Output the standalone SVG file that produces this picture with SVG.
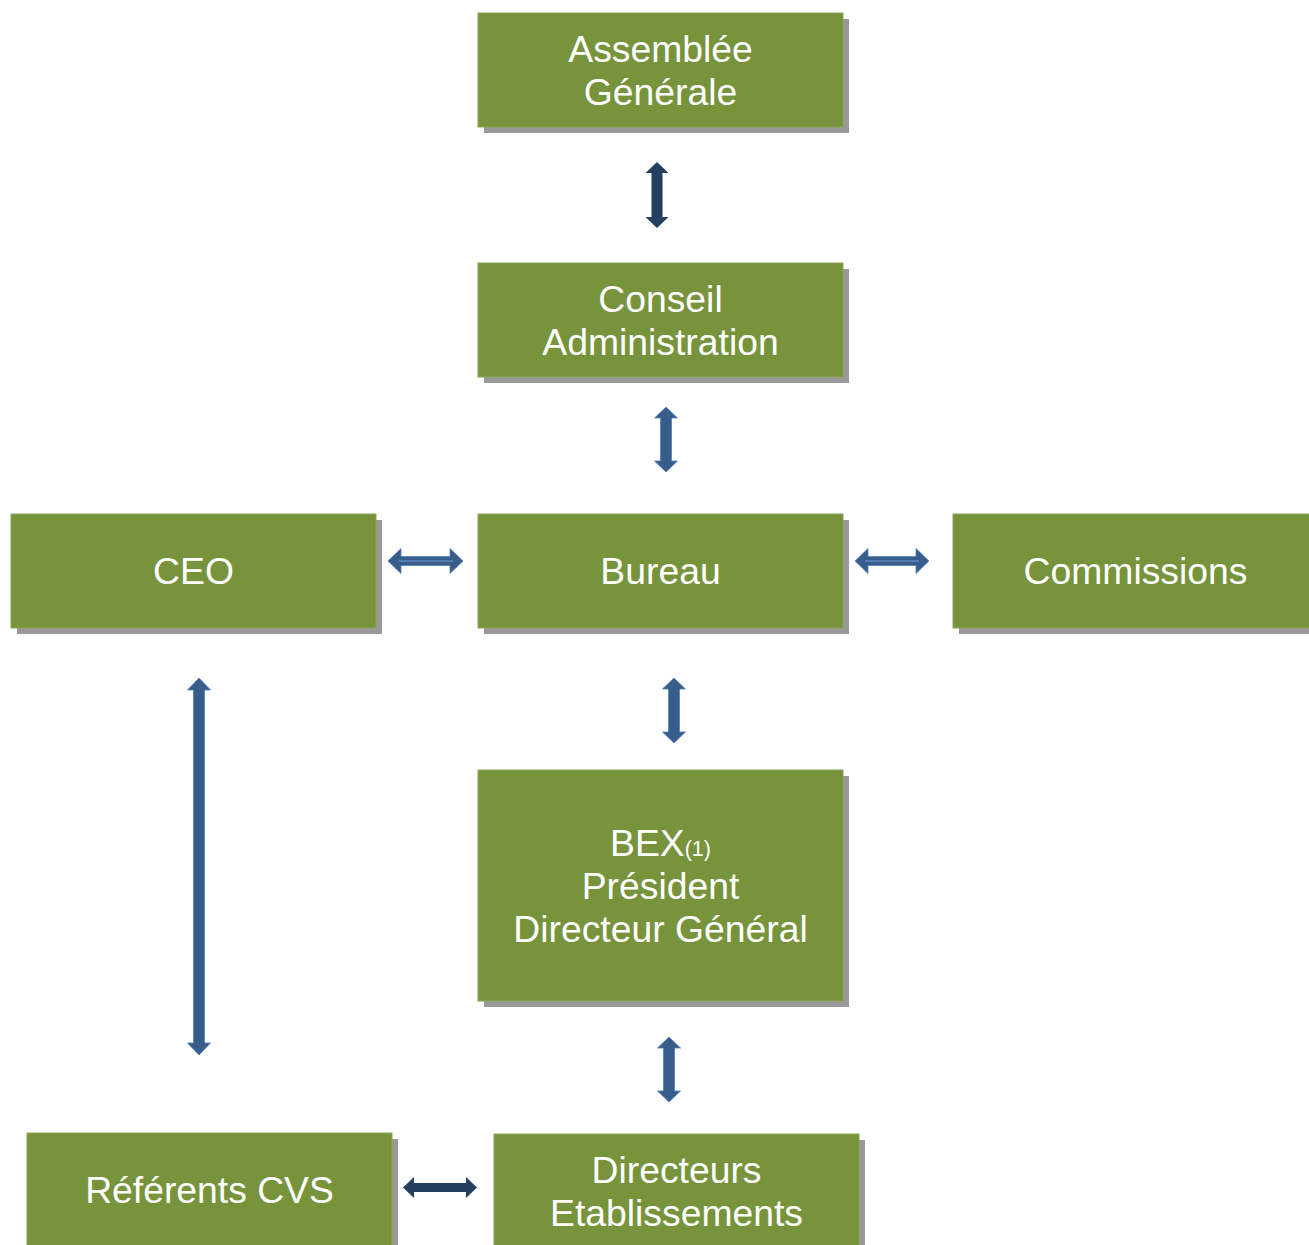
<svg xmlns="http://www.w3.org/2000/svg" width="1309" height="1245" viewBox="0 0 1309 1245">
<style>
.box{fill:#77933c;stroke:#8aa552;stroke-width:1}
.sh{fill:#999999}
.t{fill:#ffffff;font-family:"Liberation Sans",Arial,sans-serif;font-size:37.3px;text-anchor:middle}
.dark{fill:#243f60}
.blue{fill:#385d8a;stroke:#4f81bd;stroke-width:0.8}
.hl{stroke:#5b86bf;stroke-width:1.5}
</style>
<rect width="1309" height="1245" fill="#ffffff"/>
<g id="node-ag">
<rect class="sh" x="484" y="19" width="365" height="114"/>
<rect class="box" x="478" y="13" width="365" height="114"/>
<text class="t" x="660.5" y="62">Assemblée</text>
<text class="t" x="660.5" y="105">Générale</text>
</g>
<g id="node-ca">
<rect class="sh" x="484" y="269" width="365" height="114"/>
<rect class="box" x="478" y="263" width="365" height="114"/>
<text class="t" x="660.5" y="312">Conseil</text>
<text class="t" x="660.5" y="355">Administration</text>
</g>
<g id="node-ceo">
<rect class="sh" x="17" y="520" width="365" height="114"/>
<rect class="box" x="11" y="514" width="365" height="114"/>
<text class="t" x="193.5" y="584">CEO</text>
</g>
<g id="node-bureau">
<rect class="sh" x="484" y="520" width="365" height="114"/>
<rect class="box" x="478" y="514" width="365" height="114"/>
<text class="t" x="660.5" y="584">Bureau</text>
</g>
<g id="node-commissions">
<rect class="sh" x="959" y="520" width="365" height="114"/>
<rect class="box" x="953" y="514" width="365" height="114"/>
<text class="t" x="1135.5" y="584">Commissions</text>
</g>
<g id="node-bex">
<rect class="sh" x="484" y="776" width="365" height="231"/>
<rect class="box" x="478" y="770" width="365" height="231"/>
<text class="t" x="660.5" y="856">BEX<tspan font-size="21.5px">(1)</tspan></text>
<text class="t" x="660.5" y="899">Président</text>
<text class="t" x="660.5" y="942">Directeur Général</text>
</g>
<g id="node-referents">
<rect class="sh" x="33" y="1139" width="365" height="114"/>
<rect class="box" x="27" y="1133" width="365" height="114"/>
<text class="t" x="209.5" y="1203">Référents CVS</text>
</g>
<g id="node-directeurs">
<rect class="sh" x="500" y="1140" width="365" height="114"/>
<rect class="box" x="494" y="1134" width="365" height="114"/>
<text class="t" x="676.5" y="1183">Directeurs</text>
<text class="t" x="676.5" y="1226">Etablissements</text>
</g>
<g id="connectors">
<polygon class="dark" points="657,162 668.5,173 662.5,173 662.5,217 668.5,217 657,228 645.5,217 651.5,217 651.5,173 645.5,173"/>
<polygon class="blue" points="666,407 677.5,418 671.5,418 671.5,461 677.5,461 666,472 654.5,461 660.5,461 660.5,418 654.5,418"/>
<polygon class="blue" points="674,678 685.5,689 679.5,689 679.5,732 685.5,732 674,743 662.5,732 668.5,732 668.5,689 662.5,689"/>
<polygon class="blue" points="199,678 210.5,690 204.5,690 204.5,1043 210.5,1043 199,1055 187.5,1043 193.5,1043 193.5,690 187.5,690"/>
<polygon class="blue" points="669,1037 680.5,1048 674.5,1048 674.5,1091 680.5,1091 669,1102 657.5,1091 663.5,1091 663.5,1048 657.5,1048"/>
<polygon class="blue" points="388,561 401,548.5 401,556.5 450,556.5 450,548.5 463,561 450,573.5 450,565.5 401,565.5 401,573.5"/>
<line class="hl" x1="398" y1="561" x2="453" y2="561"/>
<polygon class="blue" points="855,561 868,548.5 868,556.5 916,556.5 916,548.5 929,561 916,573.5 916,565.5 868,565.5 868,573.5"/>
<line class="hl" x1="865" y1="561" x2="919" y2="561"/>
<polygon class="dark" points="403,1187.5 414,1177 414,1183 466,1183 466,1177 477,1187.5 466,1198 466,1192 414,1192 414,1198"/>
</g>
</svg>
